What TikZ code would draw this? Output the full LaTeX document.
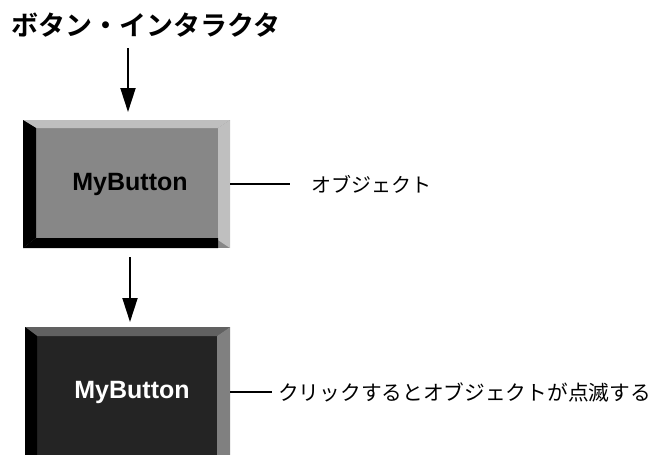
\documentclass[tikz,border=0pt]{standalone}
\usepackage{fontspec}
\setmainfont{Liberation Sans}
\newfontfamily\jp{Noto Sans CJK JP}[BoldFont={Noto Sans CJK JP Bold}]
\usetikzlibrary{arrows.meta}

\tikzset{
  flowarrow/.style={line width=2pt,-{Triangle[width=15pt,length=24pt]}},
  leader/.style={line width=1.5pt},
  btntext/.style={font=\bfseries\fontsize{25}{25}\selectfont,inner sep=0pt},
  jplabel/.style={font=\jp\fontsize{20}{20}\selectfont,inner sep=0pt,anchor=west},
}

\begin{document}
\begin{tikzpicture}[x=1pt,y=-1pt]
\useasboundingbox (0,0) rectangle (651,455);
\clip (0,0) rectangle (651,455);

% title
\node[font=\jp\bfseries\fontsize{27}{27}\selectfont,inner sep=0pt,anchor=west] (title) at (11,25) {ボタン・インタラクタ};

% first button: raised bevel, mid-grey face
\fill[black!47] (23,120) rectangle (230,248);
\fill[black!25] (23,120) -- (230,120) -- (218,128) -- (36,128) -- cycle;
\fill[black!25] (230,120) -- (230,248) -- (218,240) -- (218,128) -- cycle;
\fill[black] (23,120) -- (36,128) -- (36,238) -- (23,248) -- cycle;
\fill[black] (23,248) -- (218,248) -- (218,238) -- (36,238) -- cycle;
\node[minimum width=207pt,minimum height=128pt,inner sep=0pt] (box1) at (126.5,184) {};
\node[btntext] (txt1) at (130,184) {MyButton};

% second button: pressed, dark face
\fill[black!86] (25,327) rectangle (230,470);
\fill[black!62] (25,327) -- (230,327) -- (217,336) -- (37,336) -- cycle;
\fill[black!50] (230,327) -- (230,470) -- (217,470) -- (217,336) -- cycle;
\fill[black] (25,327) -- (37,336) -- (37,470) -- (25,470) -- cycle;
\node[minimum width=205pt,minimum height=128pt,inner sep=0pt,anchor=north] (box2) at (127.5,327) {};
\node[btntext,text=white] (txt2) at (132,392) {MyButton};

% flow arrows
\coordinate (a1) at (128,48);
\coordinate (b1) at (128,112);
\draw[flowarrow] (a1) -- (b1);
\coordinate (a2) at (130,257);
\coordinate (b2) at (130,322);
\draw[flowarrow] (a2) -- (b2);

% labels
\node[jplabel] (lab1) at (311,184) {オブジェクト};
\coordinate (e1) at (290,184);
\draw[leader] (box1.east) -- (e1);

\node[jplabel,font=\jp\fontsize{20.7}{20.7}\selectfont] (lab2) at (278,392) {クリックするとオブジェクトが点滅する};
\coordinate (s2) at (230,392);
\coordinate (e2) at (272,392);
\draw[leader] (s2) -- (e2);
\end{tikzpicture}
\end{document}
